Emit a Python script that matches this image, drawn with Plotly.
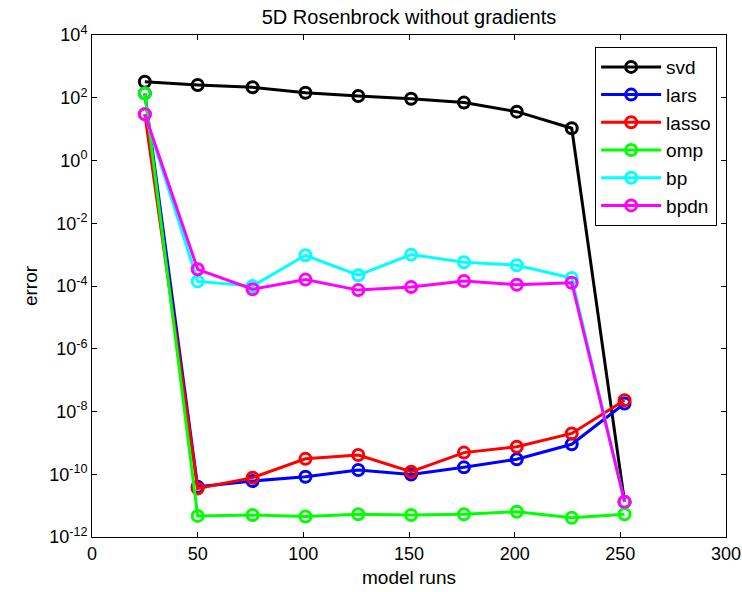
import plotly.graph_objects as go

runs = [25, 50, 76, 101, 126, 151, 176, 201, 227, 252]

svd = [325, 256, 215, 145, 114, 93, 70, 36, 10.7, 1.3e-11]
lars = [138, 4.0e-11, 6.1e-11, 8.3e-11, 1.36e-10, 9.8e-11, 1.66e-10, 3.0e-10, 9.0e-10, 1.8e-8]
lasso = [30, 3.5e-11, 7.8e-11, 3.1e-10, 4.1e-10, 1.2e-10, 4.9e-10, 7.5e-10, 2.0e-9, 2.3e-8]
omp = [138, 4.7e-12, 5.0e-12, 4.5e-12, 5.3e-12, 5.0e-12, 5.3e-12, 6.4e-12, 4.1e-12, 5.3e-12]
bp = [30, 1.4e-4, 1.0e-4, 9.5e-4, 2.2e-4, 1.0e-3, 5.7e-4, 4.6e-4, 1.8e-4, 1.3e-11]
bpdn = [30, 3.4e-4, 7.9e-5, 1.6e-4, 7.4e-5, 9.3e-5, 1.45e-4, 1.1e-4, 1.27e-4, 1.33e-11]

series = [
    ("svd", svd, "#000000"),
    ("lars", lars, "#0000FF"),
    ("lasso", lasso, "#FF0000"),
    ("omp", omp, "#00FF00"),
    ("bp", bp, "#00FFFF"),
    ("bpdn", bpdn, "#FF00FF"),
]

y_exps = list(range(-12, 5, 2))
y_tickvals = [10.0 ** e for e in y_exps]
y_ticktext = ["10<sup>%d</sup>" % e for e in y_exps]
x_ticks = [0, 50, 100, 150, 200, 250, 300]

fig = go.Figure()
for name, vals, col in series:
    fig.add_trace(go.Scatter(
        x=runs, y=vals, name=name, mode="lines+markers",
        line=dict(color=col, width=3),
        marker=dict(symbol="circle-open", size=11, color=col, line=dict(width=3, color=col)),
    ))

font = "Liberation Sans, Arial, sans-serif"
fig.update_layout(
    width=742, height=592,
    margin=dict(l=92, r=16, t=35, b=55),
    paper_bgcolor="white", plot_bgcolor="white",
    font=dict(family=font, size=18, color="black"),
    title=dict(text="5D Rosenbrock without gradients", x=0.5, xref="paper", xanchor="center",
               y=1 - 17 / 592, yanchor="middle", font=dict(size=20, family=font)),
    showlegend=True,
    legend=dict(x=0.986, y=0.976, xanchor="right", yanchor="top",
                bgcolor="white", bordercolor="black", borderwidth=1,
                font=dict(size=19, family=font), tracegroupgap=0,
                itemwidth=60),
)
fig.update_xaxes(
    range=[0, 300], tickvals=x_ticks, ticks="inside", ticklen=5, tickcolor="black",
    showline=True, linecolor="black", linewidth=1, mirror="ticks", showgrid=False,
    zeroline=False, automargin=False,
    title=dict(text="model runs", standoff=8, font=dict(size=19)),
    tickfont=dict(size=18),
)
fig.update_yaxes(
    type="log", range=[-12, 4], tickvals=y_tickvals, ticktext=y_ticktext,
    ticks="inside", ticklen=5, tickcolor="black",
    showline=True, linecolor="black", linewidth=1, mirror="ticks", showgrid=False,
    zeroline=False, automargin=False,
    title=dict(text="error", standoff=6, font=dict(size=19)),
    tickfont=dict(size=18),
)

fig.write_html("out.html")
